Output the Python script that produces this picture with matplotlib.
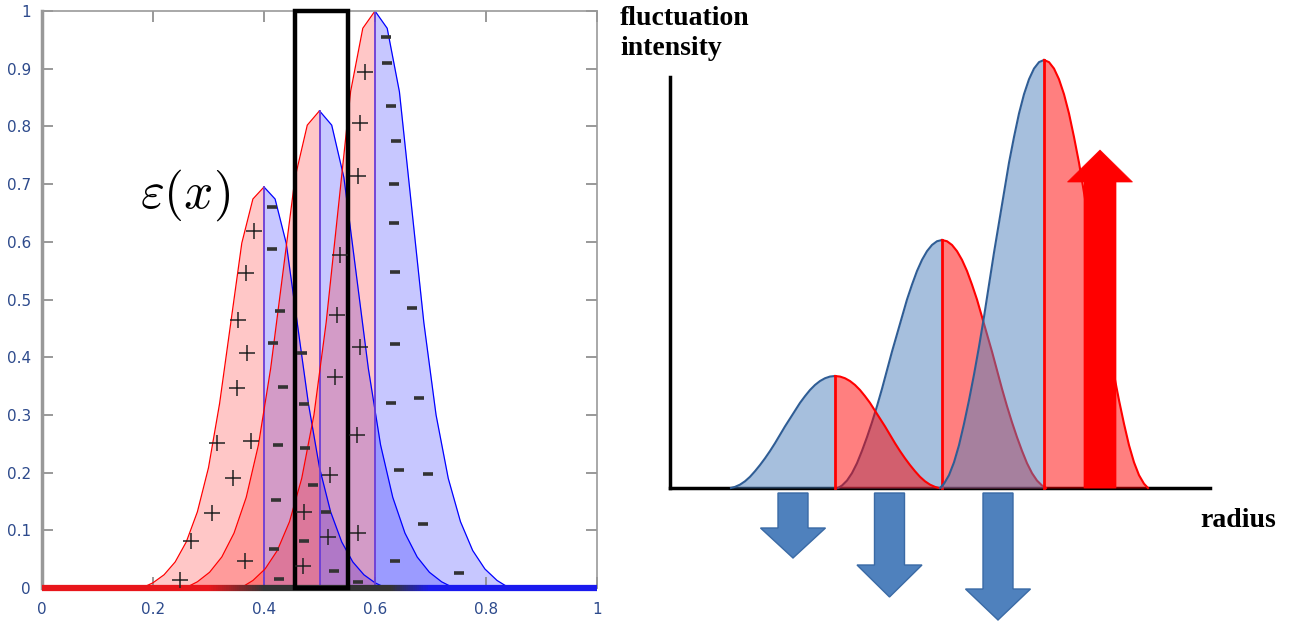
# -*- coding: utf-8 -*-

#Importing necessary libraries
import numpy as np
import matplotlib.pyplot as plt
from matplotlib.collections import LineCollection
from matplotlib.colors import LinearSegmentedColormap
from matplotlib.patches import Polygon, Rectangle

plt.rcParams['mathtext.fontset'] = 'cm'

#Left panel: three humps, left half red (+), right half blue (-)
centres = [0.4, 0.5, 0.6]
peaks = [0.695, 0.827, 1.0]
widths = [1.0, 1.1, 1.1]
offsets = [0, 0.02, 0.04, 0.06, 0.08, 0.10, 0.12, 0.14, 0.16, 0.18, 0.20, 0.22]
profile = [1, 0.97, 0.86, 0.66, 0.46, 0.30, 0.19, 0.115, 0.065, 0.033, 0.013, 0.0]

plus_x = [0.382, 0.368, 0.353, 0.369, 0.351, 0.315, 0.377, 0.344, 0.306, 0.268,
          0.366, 0.249, 0.472, 0.470, 0.532, 0.573, 0.528, 0.568, 0.519, 0.515,
          0.569, 0.582, 0.573, 0.569, 0.537]
plus_y = [0.619, 0.546, 0.464, 0.407, 0.347, 0.251, 0.255, 0.191, 0.130, 0.081,
          0.047, 0.014, 0.132, 0.038, 0.473, 0.418, 0.366, 0.265, 0.196, 0.088,
          0.095, 0.894, 0.806, 0.714, 0.577]
minus_x = [0.414, 0.414, 0.429, 0.416, 0.434, 0.425, 0.422, 0.418, 0.427, 0.468,
           0.472, 0.474, 0.488, 0.472, 0.512, 0.526, 0.569, 0.620, 0.622, 0.629,
           0.638, 0.634, 0.634, 0.636, 0.667, 0.636, 0.629, 0.679, 0.643, 0.695,
           0.686, 0.636, 0.751]
minus_y = [0.660, 0.588, 0.480, 0.425, 0.348, 0.248, 0.153, 0.068, 0.016, 0.407,
           0.319, 0.243, 0.179, 0.081, 0.132, 0.029, 0.010, 0.955, 0.910, 0.835,
           0.775, 0.700, 0.633, 0.548, 0.485, 0.423, 0.321, 0.329, 0.205, 0.198,
           0.111, 0.047, 0.026]

box_x = [0.455, 0.552]
xtick_vals = [0, 0.2, 0.4, 0.6, 0.8, 1]
xtick_labels = ['0', '0.2', '0.4', '0.6', '0.8', '1']
ytick_vals = [0, 0.1, 0.2, 0.3, 0.4, 0.5, 0.6, 0.7, 0.8, 0.9, 1]
ytick_labels = ['0', '0.1', '0.2', '0.3', '0.4', '0.5', '0.6', '0.7', '0.8', '0.9', '1']

#Right panel (units: pixels from the axis corner)
r_centres = [165, 272, 374]
r_peaks = [112, 248, 428]
r_offsets = [0, 5, 10, 15, 20, 25, 30, 35, 40, 45, 50, 55, 60, 65, 70, 75,
             80, 85, 90, 95, 100, 104]
r_profile = [1, 0.995, 0.98, 0.955, 0.92, 0.875, 0.82, 0.76, 0.69, 0.62, 0.55,
             0.475, 0.40, 0.33, 0.265, 0.205, 0.15, 0.10, 0.06, 0.03, 0.01,
             0.0]
down_x = [123, 219.5, 328]
down_base = [-40, -77, -101]
down_tip = [-70, -109, -132]
up_x = 430
up_base = 306
up_tip = 338

fig = plt.figure(figsize=(12.98, 6.27), dpi=100)

#---------------- left panel ----------------
ax = fig.add_axes([42/1298, 39/627, 555/1298, 577/627])

off = np.array(offsets)
for c, p, w in zip(centres, peaks, widths):
    prof = np.array(profile)*p
    xl = c - w*off[::-1]
    ax.fill_between(xl, 0, prof[::-1], color='red', alpha=0.22, lw=0)
    ax.plot(xl, prof[::-1], color='red', lw=0.9)
    xr = c + w*off
    ax.fill_between(xr, 0, prof, color='blue', alpha=0.22, lw=0)
    ax.plot(xr, prof, color='blue', lw=0.9)
    ax.plot([c, c], [0, p], color='#6a3cd6', lw=1.3)

#coloured baseline, red -> dark -> blue
cmap = LinearSegmentedColormap.from_list(
    'base', [(0, '#e8161b'), (0.3, '#e8161b'), (0.4, '#333333'),
             (0.63, '#333333'), (0.7, '#1a1aee'), (1, '#1a1aee')])
bx = np.linspace(0, 1, 300)
pts = np.array([bx, np.zeros_like(bx)]).T.reshape(-1, 1, 2)
segs = np.concatenate([pts[:-1], pts[1:]], axis=1)
lc = LineCollection(segs, cmap=cmap, linewidths=4.5, zorder=4, clip_on=False)
lc.set_array(bx[:-1])
ax.add_collection(lc)

ax.add_patch(Rectangle((box_x[0], 0), box_x[1]-box_x[0], 1.0, fill=False,
                       ec='black', lw=3.2, zorder=5, clip_on=False))

ax.scatter(plus_x, plus_y, marker='+', s=120, c='#222222', linewidths=1.1,
           zorder=6)
ax.scatter(minus_x, minus_y, marker='_', s=45, c='#333333', linewidths=2.6,
           zorder=6)

ax.text(0.258, 0.681, r'$\varepsilon(x)$', fontsize=37, ha='center',
        va='center')

ax.set_xlim(0, 1)
ax.set_ylim(0, 1)
ax.set_xticks(xtick_vals, xtick_labels)
ax.set_yticks(ytick_vals, ytick_labels)
ax.tick_params(direction='in', length=8, width=1.2, color='#888888',
               top=True, right=True, labelcolor='#2d4a8c', labelsize=11)
ax.tick_params(axis='y', pad=8)
ax.tick_params(axis='x', pad=10)
for s in ax.spines.values():
    s.set_color('#999999')
    s.set_linewidth(1.2)
ax.spines['left'].set_linewidth(2.5)

#---------------- right panel ----------------
ar = fig.add_axes([0, 0, 1, 1])
ar.set_xlim(-670, 628)
ar.set_ylim(-139, 488)
ar.axis('off')
ar.patch.set_visible(False)

blue_fill = '#4f81bd'
blue_edge = '#2f5d95'
r_off = np.array(r_offsets)


def hump_half(i, side, z):
    c, p = r_centres[i], r_peaks[i]
    prof = np.array(r_profile)*p
    if side == 'left':
        xs = c - r_off[::-1]
        ys = prof[::-1]
        ar.fill_between(xs, 0, ys, color=blue_fill, alpha=0.5, lw=0, zorder=z)
        ar.plot(xs, ys, color=blue_edge, lw=1.5, zorder=z)
    else:
        xs = c + r_off
        ar.fill_between(xs, 0, prof, color='red', alpha=0.5, lw=0, zorder=z)
        ar.plot(xs, prof, color='red', lw=1.5, zorder=z)
        ar.plot([c, c], [0, p], color='red', lw=2, zorder=z)


order = [(0, 'left'), (1, 'left'), (0, 'right'), (1, 'right'),
         (2, 'left'), (2, 'right')]
for k, (i, side) in enumerate(order):
    hump_half(i, side, 2+k)

#axes of the schematic
ar.plot([0, 0], [0, 411], color='black', lw=2.5, zorder=1)
ar.plot([0, 540], [0, 0], color='black', lw=2.5, zorder=1)


def arrow_poly(cx, y0, ybase, ytip, sw, hw):
    return [(cx-sw, y0), (cx+sw, y0), (cx+sw, ybase), (cx+hw, ybase),
            (cx, ytip), (cx-hw, ybase), (cx-sw, ybase)]


for cx, yb, yt in zip(down_x, down_base, down_tip):
    ar.add_patch(Polygon(arrow_poly(cx, -5, yb, yt, 15, 32.5), closed=True,
                         fc=blue_fill, ec='#3a6aa5', lw=1, zorder=10))
ar.add_patch(Polygon(arrow_poly(up_x, 0, up_base, up_tip, 16, 32.5),
                     closed=True, fc='#ff0000', ec='#ff0000', lw=0.5,
                     zorder=10))

ar.text(-50, 482, 'fluctuation\nintensity', ha='left', va='top',
        family='Liberation Serif', weight='bold', fontsize=20,
        linespacing=1.25)
ar.text(530, -39, 'radius', ha='left', va='baseline',
        family='Liberation Serif', weight='bold', fontsize=20)

plt.savefig('out.png', dpi=100)
